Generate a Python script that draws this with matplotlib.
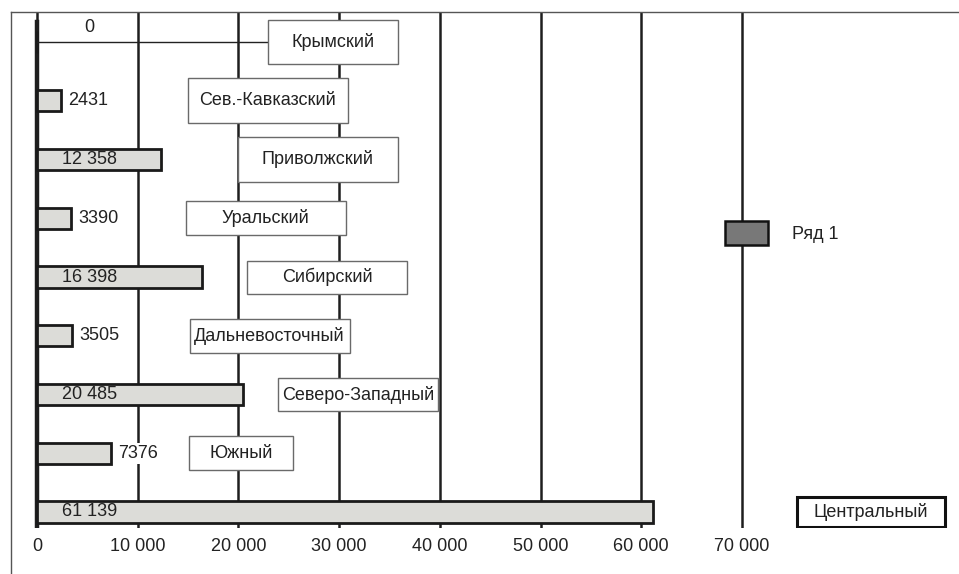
import matplotlib
matplotlib.use('Agg')
import matplotlib.pyplot as plt
from matplotlib.patches import Rectangle, Patch
from matplotlib.lines import Line2D

plt.rcParams['font.family'] = ['Liberation Sans', 'DejaVu Sans']

regions = ['Крымский', 'Сев.-Кавказский', 'Приволжский', 'Уральский', 'Сибирский',
           'Дальневосточный', 'Северо-Западный', 'Южный', 'Центральный']
counts = [0, 2431, 12358, 3390, 16398, 3505, 20485, 7376, 61139]
count_labels = ['0', '2431', '12 358', '3390', '16 398', '3505', '20 485', '7376', '61 139']
ticks = [0, 10000, 20000, 30000, 40000, 50000, 60000, 70000]
tick_labels = ['0', '10 000', '20 000', '30 000', '40 000', '50 000', '60 000', '70 000']
series_name = 'Ряд 1'

# region name boxes: centre x (data units), width and height in pixels
box_x = [29400, 22900, 27900, 22700, 28800, 23100, 31900, 20300, 82800]
box_w = [130, 160, 160, 160, 160, 160, 160, 104, 148]
box_h = [44, 45, 45, 34, 33, 34, 33, 34, 30]

W, H = 959, 574
fig = plt.figure(figsize=(W / 100, H / 100), dpi=100)

# axes placement in pixels
left, right, top, bottom = 11, 959, 12, 528
ax = fig.add_axes([left / W, 1 - bottom / H, (right - left) / W, (bottom - top) / H])

px_x = 705 / 70000          # pixels per data unit along x
px_y = 58.75                # pixels per row
x0 = 37                     # pixel position of zero
y0 = 42                     # pixel position of first row
ax.set_xlim((left - x0) / px_x, (right - x0) / px_x)
ax.set_ylim((bottom - y0) / px_y, (top - y0) / px_y)

for s in ax.spines.values():
    s.set_visible(False)

ax.set_yticks([])
ax.set_xticks(ticks)
ax.set_xticklabels(tick_labels, fontsize=13, color='#222222')
ax.tick_params(axis='x', length=0, pad=7)
ax.set_axisbelow(True)
ax.xaxis.grid(True, color='#1e1e1e', lw=1.8)
ax.axvline(0, ymin=0.0, ymax=1 - 10 / (bottom - top), color='#1e1e1e', lw=3.2, zorder=1)

rows = list(range(len(regions)))
ax.barh(rows, counts, height=0.36, color='#dcdcd8', edgecolor='#1a1a1a', lw=2, zorder=3)

# value labels: inside the bar when it is long enough, otherwise just past its end;
# a zero sits above its leader line
label_centre = 5200
label_half = 3400
for r, v, lab in zip(rows, counts, count_labels):
    if v == 0:
        ax.text(label_centre, r - 0.24, lab, ha='center', va='center', fontsize=13,
                color='#222222', zorder=4)
    elif v > label_centre + label_half + 800:
        ax.text(label_centre, r, lab, ha='center', va='center', fontsize=13,
                color='#222222', zorder=4)
    else:
        ax.text(v + 700, r, lab, ha='left', va='center', fontsize=13,
                color='#222222', zorder=4,
                bbox=dict(facecolor='white', edgecolor='none', pad=1.5))

for r, name, cx, w, h, v in zip(rows, regions, box_x, box_w, box_h, counts):
    wd = w / px_x
    hd = h / px_y
    heavy = name == 'Центральный'
    ax.add_patch(Rectangle((cx - wd / 2, r - hd / 2), wd, hd, facecolor='white',
                           edgecolor='#111111' if heavy else '#6a6a6a',
                           lw=2.2 if heavy else 1.0, zorder=5))
    ax.text(cx, r, name, ha='center', va='center', fontsize=13, color='#222222', zorder=6)
    if v == 0:
        # leader line from an empty bar to its name box
        ax.plot([v, cx - wd / 2], [r, r], color='#222222', lw=1.0, zorder=4)

leg = ax.legend(handles=[Patch(facecolor='#787878', edgecolor='#111111', lw=1.8, label=series_name)],
                loc='center left', bbox_to_anchor=(725 / W, 1 - 233 / H),
                bbox_transform=fig.transFigure, frameon=False, fontsize=13,
                handlelength=2.4, handleheight=1.6, handletextpad=1.3,
                borderpad=0, borderaxespad=0)
for t in leg.get_texts():
    t.set_color('#222222')

# outer frame: top and left edges
fig.add_artist(Line2D([left / W, 1], [1 - top / H, 1 - top / H],
                      transform=fig.transFigure, color='#555555', lw=1))
fig.add_artist(Line2D([left / W, left / W], [0, 1 - top / H],
                      transform=fig.transFigure, color='#555555', lw=1))

fig.savefig('out.png', dpi=100, facecolor='white')
